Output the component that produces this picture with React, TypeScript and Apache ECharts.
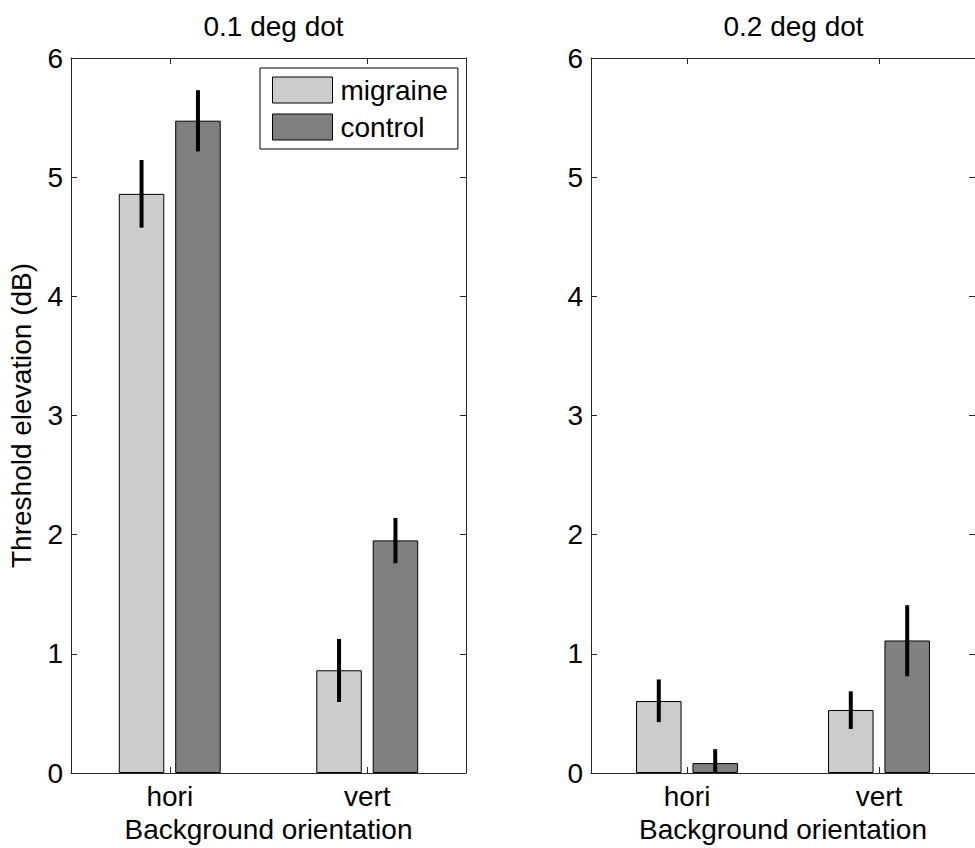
import React, { useEffect, useRef } from "react";
import * as echarts from "echarts";

const categories = ["hori", "vert"];
const panelTitles = ["0.1 deg dot", "0.2 deg dot"];
const yTicks = [0, 6, 1]; // min, max, interval

// panel 1 (0.1 deg dot)
const migraineP1 = [4.86, 0.862];
const migraineP1Low = [4.576, 0.596];
const migraineP1High = [5.144, 1.125];
const controlP1 = [5.474, 1.952];
const controlP1Low = [5.216, 1.76];
const controlP1High = [5.73, 2.14];

// panel 2 (0.2 deg dot)
const migraineP2 = [0.604, 0.529];
const migraineP2Low = [0.427, 0.369];
const migraineP2High = [0.785, 0.685];
const controlP2 = [0.083, 1.112];
const controlP2Low = [-0.034, 0.812];
const controlP2High = [0.2, 1.408];

const FONT = "'Liberation Sans', Arial, Helvetica, sans-serif";
const FS = 28;
const MIGRAINE_COLOR = "#cccccc";
const CONTROL_COLOR = "#808080";
const LINE_COLOR = "#262626";
const BAR_WIDTH = 45.5;
const BAR_GAP_FRAC = 0.24;

export default function App() {
  const ref = useRef<HTMLDivElement>(null);
  useEffect(() => {
    if (!ref.current) return;
    const chart = echarts.init(ref.current, undefined, { renderer: "svg" });
    const offset = (BAR_WIDTH + BAR_WIDTH * BAR_GAP_FRAC) / 2;

    const grids = [
      { left: 71, top: 58, width: 395, height: 721, show: false },
      { left: 591, top: 58, width: 395, height: 721, show: false },
    ];

    const xAxes: any[] = [];
    const yAxes: any[] = [];
    grids.forEach((_, gi) => {
      xAxes.push({
        type: "category",
        gridIndex: gi,
        position: "bottom",
        data: categories,
        boundaryGap: true,
        axisLine: { show: true, onZero: false, lineStyle: { color: LINE_COLOR, width: 1 } },
        axisTick: { show: true, inside: true, alignWithLabel: true, length: 6, lineStyle: { color: LINE_COLOR } },
        axisLabel: { color: "#000", fontSize: FS, fontFamily: FONT, margin: 9 },
        splitLine: { show: false },
        name: "Background orientation",
        nameLocation: "middle",
        nameGap: 42,
        nameTextStyle: { color: "#000", fontSize: FS, fontFamily: FONT, verticalAlign: "top" },
      });
      xAxes.push({
        type: "category",
        gridIndex: gi,
        position: "top",
        data: categories,
        boundaryGap: true,
        axisLine: { show: true, onZero: false, lineStyle: { color: LINE_COLOR, width: 1 } },
        axisTick: { show: true, inside: true, alignWithLabel: true, length: 6, lineStyle: { color: LINE_COLOR } },
        axisLabel: { show: false },
        splitLine: { show: false },
      });
      const yBase = {
        type: "value",
        gridIndex: gi,
        min: yTicks[0],
        max: yTicks[1],
        interval: yTicks[2],
        axisLine: { show: true, onZero: false, lineStyle: { color: LINE_COLOR, width: 1 } },
        axisTick: { show: true, inside: true, length: 6, lineStyle: { color: LINE_COLOR } },
        splitLine: { show: false },
      };
      yAxes.push({
        ...yBase,
        position: "left",
        axisLabel: { color: "#000", fontSize: FS, fontFamily: FONT, margin: 8 },
        ...(gi === 0
          ? {
              name: "Threshold elevation (dB)",
              nameLocation: "middle",
              nameGap: 36,
              nameRotate: 90,
              nameTextStyle: { color: "#000", fontSize: FS, fontFamily: FONT },
            }
          : {}),
      });
      yAxes.push({
        ...yBase,
        position: "right",
        axisLabel: { show: false },
      });
    });

    const barSeries = (name: string, color: string, data: number[], gi: number) => ({
      type: "bar",
      name,
      xAxisIndex: gi * 2,
      yAxisIndex: gi * 2,
      data,
      barWidth: BAR_WIDTH,
      barGap: `${BAR_GAP_FRAC * 100}%`,
      itemStyle: { color, borderColor: "#000", borderWidth: 1 },
      emphasis: { disabled: true },
      silent: true,
    });

    const errSeries = (low: number[], high: number[], gi: number, dir: number) => ({
      type: "custom",
      xAxisIndex: gi * 2,
      yAxisIndex: gi * 2,
      clip: true,
      silent: true,
      data: low.map((l, i) => [i, l, high[i]]),
      encode: { x: 0, y: [1, 2] },
      renderItem: (params: any, api: any) => {
        const c = api.value(0);
        const p1 = api.coord([c, api.value(1)]);
        const p2 = api.coord([c, api.value(2)]);
        const x = p1[0] + dir * offset;
        return {
          type: "line",
          shape: { x1: x, y1: p1[1], x2: x, y2: p2[1] },
          style: { stroke: "#000", lineWidth: 4 },
        };
      },
      z: 5,
    });

    const option: any = {
      animation: false,
      backgroundColor: "#ffffff",
      textStyle: { fontFamily: FONT },
      title: panelTitles.map((t, i) => ({
        text: t,
        left: grids[i].left + grids[i].width / 2,
        top: 7,
        textAlign: "center",
        textStyle: { color: "#000", fontSize: FS, fontWeight: "normal", fontFamily: FONT },
      })),
      legend: {
        orient: "vertical",
        left: 260,
        top: 68,
        itemWidth: 60,
        itemHeight: 26,
        itemGap: 9,
        padding: [8, 10, 8, 12],
        backgroundColor: "#fff",
        borderColor: "#000",
        borderWidth: 1,
        selectedMode: false,
        textStyle: { color: "#000", fontSize: FS, fontFamily: FONT, padding: [0, 0, 0, 3] },
        data: [
          { name: "migraine", icon: "rect", itemStyle: { color: MIGRAINE_COLOR, borderColor: "#000", borderWidth: 1 } },
          { name: "control", icon: "rect", itemStyle: { color: CONTROL_COLOR, borderColor: "#000", borderWidth: 1 } },
        ],
      },
      grid: grids,
      xAxis: xAxes,
      yAxis: yAxes,
      series: [
        barSeries("migraine", MIGRAINE_COLOR, migraineP1, 0),
        barSeries("control", CONTROL_COLOR, controlP1, 0),
        barSeries("migraine", MIGRAINE_COLOR, migraineP2, 1),
        barSeries("control", CONTROL_COLOR, controlP2, 1),
        errSeries(migraineP1Low, migraineP1High, 0, -1),
        errSeries(controlP1Low, controlP1High, 0, 1),
        errSeries(migraineP2Low, migraineP2High, 1, -1),
        errSeries(controlP2Low, controlP2High, 1, 1),
      ],
    };
    chart.setOption(option);
    return () => chart.dispose();
  }, []);
  return (
    <div
      ref={ref}
      style={{ position: "fixed", left: 0, top: 0, width: 975, height: 848, background: "#fff" }}
    />
  );
}
